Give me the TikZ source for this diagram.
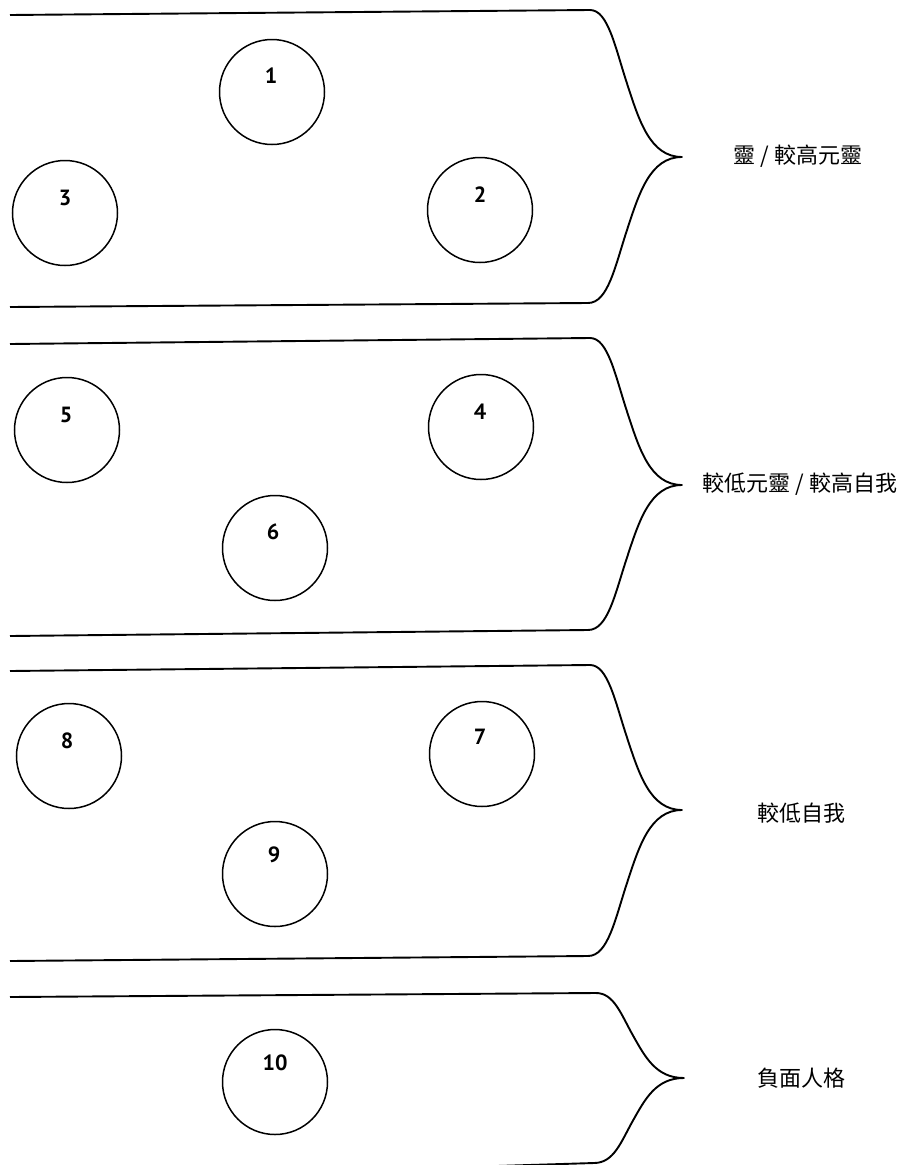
\documentclass[tikz,border=0pt]{standalone}
\usepackage{fontspec}
\setmainfont{Liberation Sans}
\newfontfamily\cjk{Noto Sans CJK TC}
\newfontfamily\numfont{PT Sans}
\newcommand\grpshape[6]{% #1 dx, #2 top-left y, #3 top-right y, #4 tip y, #5 bottom-right y, #6 bottom-left y
  \draw[rim] (10,#2) -- ({590+#1},#3)
    .. controls ({608+#1},#3) and ({615+#1},{#3+0.25*(#4-#3)}) .. ({627+#1},{#3+0.5*(#4-#3)})
    .. controls ({639+#1},{#3+0.75*(#4-#3)}) and ({650+#1},#4) .. ({682+0.3*#1},#4)
    .. controls ({650+#1},#4) and ({639+#1},{#4+0.25*(#5-#4)}) .. ({627+#1},{#4+0.5*(#5-#4)})
    .. controls ({615+#1},{#4+0.75*(#5-#4)}) and ({608+#1},#5) .. ({588+#1},#5)
    -- (10,#6);
}
\begin{document}
\begin{tikzpicture}[x=1pt,y=-1pt,
  rim/.style={line width=1.9pt, line join=round},
  ring/.style={circle, draw, line width=1.5pt, minimum size=105pt, inner sep=0pt},
  num/.style={font=\numfont\bfseries\fontsize{22}{22}\selectfont, inner sep=0pt},
  tag/.style={font=\cjk\fontsize{22}{22}\selectfont, inner sep=0pt}]
\useasboundingbox (0,0) rectangle (905,1165);
% group outlines
\grpshape{0}{15}{10}{157}{303}{307}
\grpshape{0}{344}{338}{485}{630}{636}
\grpshape{0}{671}{665}{810}{956}{961}
\grpshape{6}{997}{993}{1078}{1163}{1181}
% circles
\node[ring] (c1) at (272,92) {};
\node[ring] (c2) at (480,210) {};
\node[ring] (c3) at (65,213) {};
\node[ring] (c4) at (481,427) {};
\node[ring] (c5) at (67,430) {};
\node[ring] (c6) at (275,548) {};
\node[ring] (c7) at (482,754) {};
\node[ring] (c8) at (69,756) {};
\node[ring] (c9) at (275,874) {};
\node[ring] (c10) at (275,1082) {};
% numbers
\node[num] (n1) at (271,76) {1};
\node[num] (n2) at (480,195) {2};
\node[num] (n3) at (65,198) {3};
\node[num] (n4) at (480,412) {4};
\node[num] (n5) at (66,415) {5};
\node[num] (n6) at (273,532) {6};
\node[num] (n7) at (480,737) {7};
\node[num] (n8) at (67,741) {8};
\node[num] (n9) at (274,855) {9};
\node[num] (n10) at (275,1063) {10};
% level labels
\node[tag] (l1) at (798,156) {靈 / 較高元靈};
\node[tag] (l2) at (800,484) {較低元靈 / 較高自我};
\node[tag] (l3) at (801,813) {較低自我};
\node[tag] (l4) at (801,1078) {負面人格};
\end{tikzpicture}
\end{document}
